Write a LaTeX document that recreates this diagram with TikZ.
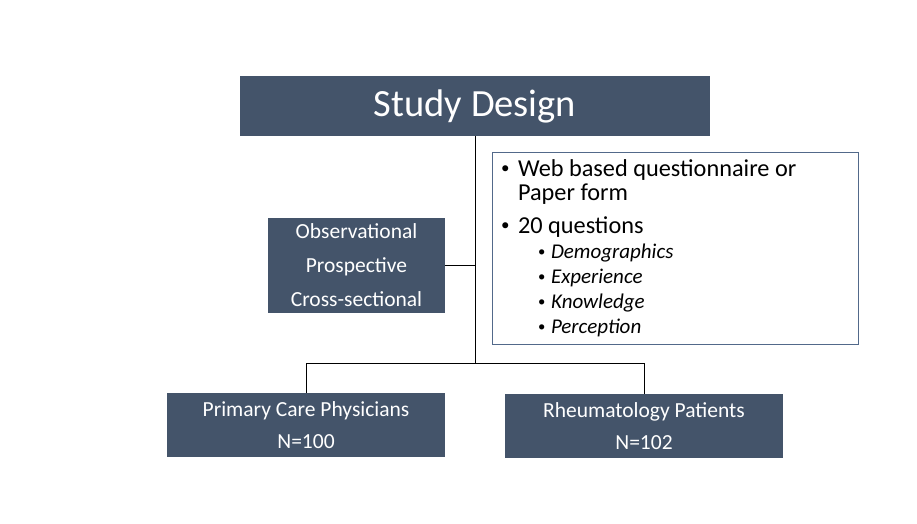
\documentclass[tikz,border=0pt]{standalone}
\usepackage{fontspec}
\setmainfont{Carlito}
\usepackage{xcolor}
\definecolor{slate}{HTML}{44546A}
\definecolor{frameblue}{HTML}{52698A}
\newcommand\qdot{\raisebox{.1em}{\scalebox{.7}{\textbullet}}}
\newcommand\qitem{\makebox[17pt][l]{\qdot}}
\newcommand\qsubitem{\hspace*{37pt}\makebox[13pt][l]{\qdot}}

\begin{document}
\begin{tikzpicture}[x=1pt,y=-1pt,
    darkbox/.style={fill=slate,text=white,inner sep=0pt,align=flush center},
    link/.style={draw=black,line width=0.8pt}]
    \useasboundingbox[fill=white] (0,0) rectangle (917,524);
    \node[darkbox,minimum width=470,minimum height=60,
      font=\fontsize{38.5}{44}\selectfont] (design) at (475,106) {Study Design};
    \node[darkbox,minimum width=177,minimum height=95,text width=175pt,
      font=\fontsize{21.5}{34}\selectfont] (type) at (356.5,265.5)
      {Observational\\Prospective\\Cross-sectional};
    \node[draw=frameblue,line width=0.8pt,fill=white,minimum width=366,
      minimum height=192,text width=348pt,inner xsep=9pt,align=flush left,
      font=\fontsize{24.3}{24}\selectfont] (survey) at (675,248)
      {\qitem Web based questionnaire or\\
       \hspace*{17pt}Paper form\\[9pt]
       \qitem 20 questions\\[1pt]
       {\fontsize{21}{25}\selectfont\qsubitem\textit{Demographics}}\\[1pt]
       {\fontsize{21}{25}\selectfont\qsubitem\textit{Experience}}\\[1pt]
       {\fontsize{21}{25}\selectfont\qsubitem\textit{Knowledge}}\\[1pt]
       {\fontsize{21}{25}\selectfont\qsubitem\textit{Perception}}};
    \node[darkbox,minimum width=278,minimum height=64,text width=276pt,
      font=\fontsize{21.5}{32}\selectfont] (doctors) at (306,425)
      {Primary Care Physicians\\N=100};
    \node[darkbox,minimum width=278,minimum height=64,text width=276pt,
      font=\fontsize{21.5}{32}\selectfont] (patients) at (644,426)
      {Rheumatology Patients\\N=102};
    % trunk and branches
    \coordinate (split) at (475,363);
    \draw[link] (design.south) -- (split);
    \draw[link] (type.east) -- (type.east -| split);
    \draw[link] (split) -| (doctors.north);
    \draw[link] (split) -| (patients.north);
\end{tikzpicture}
\end{document}
